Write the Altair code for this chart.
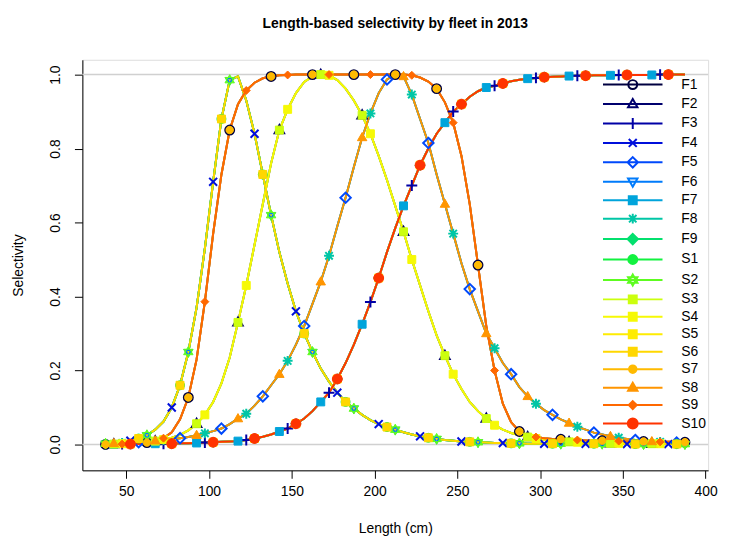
import altair as alt
import pandas as pd

# ---------------- data ----------------
series = ["F1", "F2", "F3", "F4", "F5", "F6", "F7", "F8", "F9",
          "S1", "S2", "S3", "S4", "S5", "S6", "S7", "S8", "S9", "S10"]
colors = ["#000040", "#00006E", "#0000A6", "#000FDB", "#0049FB", "#007BFB",
          "#00A4DB", "#00C6A6", "#03E06E", "#13F240", "#5DFC20", "#CCFF0E",
          "#F6F905", "#FEEC02", "#FFD700", "#FFBA00", "#FF9500", "#FF6800", "#FF3300"]
# which selectivity curve each fleet/survey follows in 2013
series_curve = ["E", "B", "D", "A", "C", "A", "D", "C", "D",
                "A", "A", "B", "B", "D", "A", "E", "C", "E", "D"]
# first bin (0-4) at which each series draws its markers (every 5th bin)
marker_start = [0, 1, 2, 3, 4, 0, 1, 2, 3, 4, 0, 1, 2, 3, 4, 0, 1, 2, 3]

lengths = [37.5, 42.5, 47.5, 52.5, 57.5, 62.5, 67.5, 72.5, 77.5, 82.5,
           87.5, 92.5, 97.5, 102.5, 107.5, 112.5, 117.5, 122.5, 127.5, 132.5,
           137.5, 142.5, 147.5, 152.5, 157.5, 162.5, 167.5, 172.5, 177.5, 182.5,
           187.5, 192.5, 197.5, 202.5, 207.5, 212.5, 217.5, 222.5, 227.5, 232.5,
           237.5, 242.5, 247.5, 252.5, 257.5, 262.5, 267.5, 272.5, 277.5, 282.5,
           287.5, 292.5, 297.5, 302.5, 307.5, 312.5, 317.5, 322.5, 327.5, 332.5,
           337.5, 342.5, 347.5, 352.5, 357.5, 362.5, 367.5, 372.5, 377.5, 382.5,
           387.5]

curve_A = [0.002, 0.003, 0.006, 0.010, 0.016, 0.025, 0.040, 0.062, 0.100, 0.160,
           0.250, 0.370, 0.530, 0.710, 0.880, 0.985, 0.995, 0.930, 0.840, 0.730,
           0.620, 0.520, 0.435, 0.360, 0.300, 0.250, 0.205, 0.170, 0.140, 0.115,
           0.097, 0.080, 0.066, 0.055, 0.047, 0.040, 0.033, 0.027, 0.022, 0.018,
           0.015, 0.012, 0.010, 0.008, 0.007, 0.006, 0.005, 0.004, 0.004, 0.003,
           0.003, 0.002, 0.002, 0.002, 0.002, 0.002, 0.002, 0.002, 0.002, 0.002,
           0.002, 0.001, 0.001, 0.001, 0.001, 0.001, 0.001, 0.001, 0.001, 0.001,
           0.001]
curve_B = [0.001, 0.001, 0.002, 0.003, 0.004, 0.006, 0.009, 0.013, 0.018, 0.026,
           0.038, 0.056, 0.080, 0.115, 0.165, 0.235, 0.330, 0.430, 0.540, 0.650,
           0.760, 0.850, 0.906, 0.950, 0.980, 0.995, 1.000, 0.998, 0.985, 0.962,
           0.930, 0.890, 0.840, 0.780, 0.715, 0.645, 0.575, 0.500, 0.430, 0.360,
           0.295, 0.240, 0.190, 0.150, 0.115, 0.090, 0.070, 0.052, 0.040, 0.031,
           0.025, 0.020, 0.016, 0.013, 0.010, 0.008, 0.007, 0.006, 0.005, 0.004,
           0.004, 0.003, 0.003, 0.003, 0.002, 0.002, 0.002, 0.002, 0.002, 0.001,
           0.001]
curve_C = [0.002, 0.003, 0.004, 0.005, 0.006, 0.008, 0.010, 0.012, 0.014, 0.017,
           0.020, 0.025, 0.030, 0.036, 0.043, 0.055, 0.070, 0.083, 0.105, 0.130,
           0.160, 0.190, 0.226, 0.270, 0.320, 0.380, 0.440, 0.510, 0.590, 0.667,
           0.750, 0.830, 0.895, 0.950, 0.987, 1.000, 0.995, 0.946, 0.880, 0.815,
           0.730, 0.650, 0.570, 0.490, 0.420, 0.360, 0.300, 0.260, 0.220, 0.190,
           0.155, 0.130, 0.110, 0.093, 0.080, 0.068, 0.058, 0.048, 0.040, 0.032,
           0.027, 0.022, 0.018, 0.015, 0.012, 0.010, 0.008, 0.007, 0.006, 0.005,
           0.004]
curve_D = [0.000, 0.000, 0.001, 0.001, 0.001, 0.001, 0.002, 0.002, 0.002, 0.003,
           0.003, 0.004, 0.005, 0.006, 0.007, 0.008, 0.009, 0.012, 0.016, 0.021,
           0.027, 0.035, 0.043, 0.056, 0.070, 0.090, 0.115, 0.140, 0.177, 0.220,
           0.270, 0.325, 0.385, 0.450, 0.520, 0.585, 0.645, 0.700, 0.755, 0.800,
           0.840, 0.870, 0.900, 0.920, 0.940, 0.955, 0.965, 0.970, 0.976, 0.982,
           0.986, 0.989, 0.991, 0.993, 0.994, 0.995, 0.996, 0.997, 0.997, 0.998,
           0.998, 0.998, 0.999, 0.999, 0.999, 0.999, 0.999, 1.000, 1.000, 1.000,
           1.000]
curve_E = [0.000, 0.001, 0.001, 0.002, 0.003, 0.005, 0.009, 0.017, 0.033, 0.068,
           0.127, 0.230, 0.386, 0.570, 0.730, 0.850, 0.920, 0.957, 0.978, 0.990,
           0.995, 0.998, 0.999, 1.000, 1.000, 1.000, 1.000, 1.000, 1.000, 1.000,
           1.000, 1.000, 1.000, 1.000, 1.000, 1.000, 1.000, 0.998, 0.992, 0.981,
           0.962, 0.925, 0.870, 0.780, 0.650, 0.485, 0.320, 0.200, 0.110, 0.060,
           0.035, 0.025, 0.020, 0.017, 0.015, 0.014, 0.013, 0.012, 0.011, 0.010,
           0.010, 0.009, 0.009, 0.008, 0.008, 0.008, 0.007, 0.007, 0.007, 0.007,
           0.006]
curves = {"A": curve_A, "B": curve_B, "C": curve_C, "D": curve_D, "E": curve_E}

x_ticks = [50, 100, 150, 200, 250, 300, 350, 400]
y_ticks = [0.0, 0.2, 0.4, 0.6, 0.8, 1.0]
ref_lines = [0.0, 1.0]

# ---------------- marker styles (R pch look-alikes) ----------------
CIRC = "M0.9,0A0.9,0.9,0,1,1,-0.9,0A0.9,0.9,0,1,1,0.9,0Z"
CIRC_S = "M0.75,0A0.75,0.75,0,1,1,-0.75,0A0.75,0.75,0,1,1,0.75,0Z"
CIRC_L = "M1.0,0A1.0,1.0,0,1,1,-1.0,0A1.0,1.0,0,1,1,1.0,0Z"
TRI_UP = "M0,-1L0.95,0.65L-0.95,0.65Z"
TRI_DN = "M0,1L0.95,-0.65L-0.95,-0.65Z"
TRI_DN_IN = "M0,0.75L0.68,-0.4L-0.68,-0.4Z"
PLUS = "M-1.1,0H1.1M0,-1.1V1.1"
CROSS = "M-0.8,-0.8L0.8,0.8M-0.8,0.8L0.8,-0.8"
DIAM = "M0,-1.05L1.05,0L0,1.05L-1.05,0Z"
DIAM_S = "M0,-0.8L0.8,0L0,0.8L-0.8,0Z"
SQ = "M-0.8,-0.8H0.8V0.8H-0.8Z"
AST = "M-1,0H1M0,-1V1M-0.75,-0.75L0.75,0.75M-0.75,0.75L0.75,-0.75"
STAR6 = "M0,-1.1L0.95,0.55L-0.95,0.55ZM0,1.1L0.95,-0.55L-0.95,-0.55Z"

legend_marks = [CIRC, TRI_UP, PLUS, CROSS, DIAM, TRI_DN, SQ, AST, DIAM,
                CIRC, STAR6, SQ, SQ, SQ, SQ, CIRC_S, TRI_UP, DIAM_S, CIRC_L]
# in the plot the F6 triangles sit inside the S2 stars, as in the original
plot_marks = [CIRC, TRI_UP, PLUS, CROSS, DIAM, TRI_DN_IN, SQ, AST, DIAM,
              CIRC, STAR6, SQ, SQ, SQ, SQ, CIRC_S, TRI_UP, DIAM_S, CIRC_L]
marker_filled = [False, False, False, False, False, False, True, False, True,
                 True, True, True, True, True, True, True, True, True, True]

rows = []
for i, s in enumerate(series):
    vals = curves[series_curve[i]]
    for k, (L, v) in enumerate(zip(lengths, vals)):
        rows.append({"series": s, "length": L, "sel": v,
                     "marker": (k % 5) == marker_start[i]})
df = pd.DataFrame(rows)
ref_df = pd.DataFrame({"y": ref_lines})

FONT = "Liberation Sans"
x_scale = alt.Scale(domain=[23.5, 401.5], nice=False, zero=False)
y_scale = alt.Scale(domain=[-0.07, 1.04], nice=False, zero=False)

x_axis = alt.Axis(values=x_ticks, title="Length (cm)", grid=False, tickSize=8,
                  labelPadding=6, labelFontSize=14, titleFontSize=14,
                  titleFontWeight="normal", titlePadding=24, labelFont=FONT,
                  titleFont=FONT, domainColor="black", tickColor="black",
                  labelColor="black", titleColor="black", labelFlush=False)
y_axis = alt.Axis(values=y_ticks, format=".1f", title="Selectivity", grid=False,
                  tickSize=8, labelPadding=12, labelFontSize=14, titleFontSize=14,
                  titleFontWeight="normal", titlePadding=23, labelAngle=270,
                  labelAlign="center", labelBaseline="bottom", labelFont=FONT,
                  titleFont=FONT, domainColor="black", tickColor="black",
                  labelColor="black", titleColor="black", labelFlush=False)

base = alt.Chart(df)

rules = alt.Chart(ref_df).mark_rule(color="#D0D0D0", strokeWidth=1.5).encode(
    y=alt.Y("y:Q", scale=y_scale, axis=y_axis)
)

line_layers = []
for i, s in enumerate(series):
    line_layers.append(
        base.transform_filter(alt.datum.series == s)
        .mark_line(color=colors[i], strokeWidth=2)
        .encode(x=alt.X("length:Q", scale=x_scale, axis=x_axis),
                y=alt.Y("sel:Q", scale=y_scale, axis=y_axis))
    )

point_layers = []
for i, s in enumerate(series):
    if marker_filled[i]:
        mk = alt.MarkDef(type="point", shape=plot_marks[i], size=100, filled=True,
                         fill=colors[i], stroke=colors[i], strokeWidth=1, opacity=1)
    else:
        mk = alt.MarkDef(type="point", shape=plot_marks[i], size=100, filled=False,
                         stroke=colors[i], strokeWidth=2, opacity=1)
    point_layers.append(
        alt.Chart(df, mark=mk)
        .transform_filter((alt.datum.series == s) & alt.datum.marker)
        .encode(x=alt.X("length:Q", scale=x_scale, axis=x_axis),
                y=alt.Y("sel:Q", scale=y_scale, axis=y_axis))
    )

legend_paths = ["M-6,0H6" + p for p in legend_marks]
legend_fills = [c if f else "transparent" for c, f in zip(colors, marker_filled)]
leg = alt.Legend(orient="none", legendX=518, legendY=18, title=None,
                 symbolSize=100, symbolStrokeWidth=2, labelFontSize=14,
                 labelFont=FONT, labelColor="black", labelOffset=42,
                 symbolOffset=30, rowPadding=1.6, padding=0)
legend_layer = base.transform_filter("datum.series == 'none'").mark_point(
    opacity=1, strokeWidth=2
).encode(
    shape=alt.Shape("series:N", scale=alt.Scale(domain=series, range=legend_paths), legend=leg),
    stroke=alt.Stroke("series:N", scale=alt.Scale(domain=series, range=colors), legend=leg),
    fill=alt.Fill("series:N", scale=alt.Scale(domain=series, range=legend_fills), legend=leg),
)

chart = alt.layer(rules, *line_layers, *point_layers, legend_layer).properties(
    width=631, height=414,
    title=alt.TitleParams("Length-based selectivity by fleet in 2013", font=FONT,
                          fontSize=14, fontWeight="bold", anchor="middle",
                          offset=29, color="black"),
    autosize=alt.AutoSizeParams(type="none"),
    padding={"left": 75, "top": 50, "right": 14, "bottom": 66},
).configure_view(stroke=None).configure(font=FONT, background="white").configure_axisLeft(
    labelAngle=270, labelAlign="center", labelBaseline="bottom"
)

chart.save("out.html", embed_options={"renderer": "svg", "actions": False})
